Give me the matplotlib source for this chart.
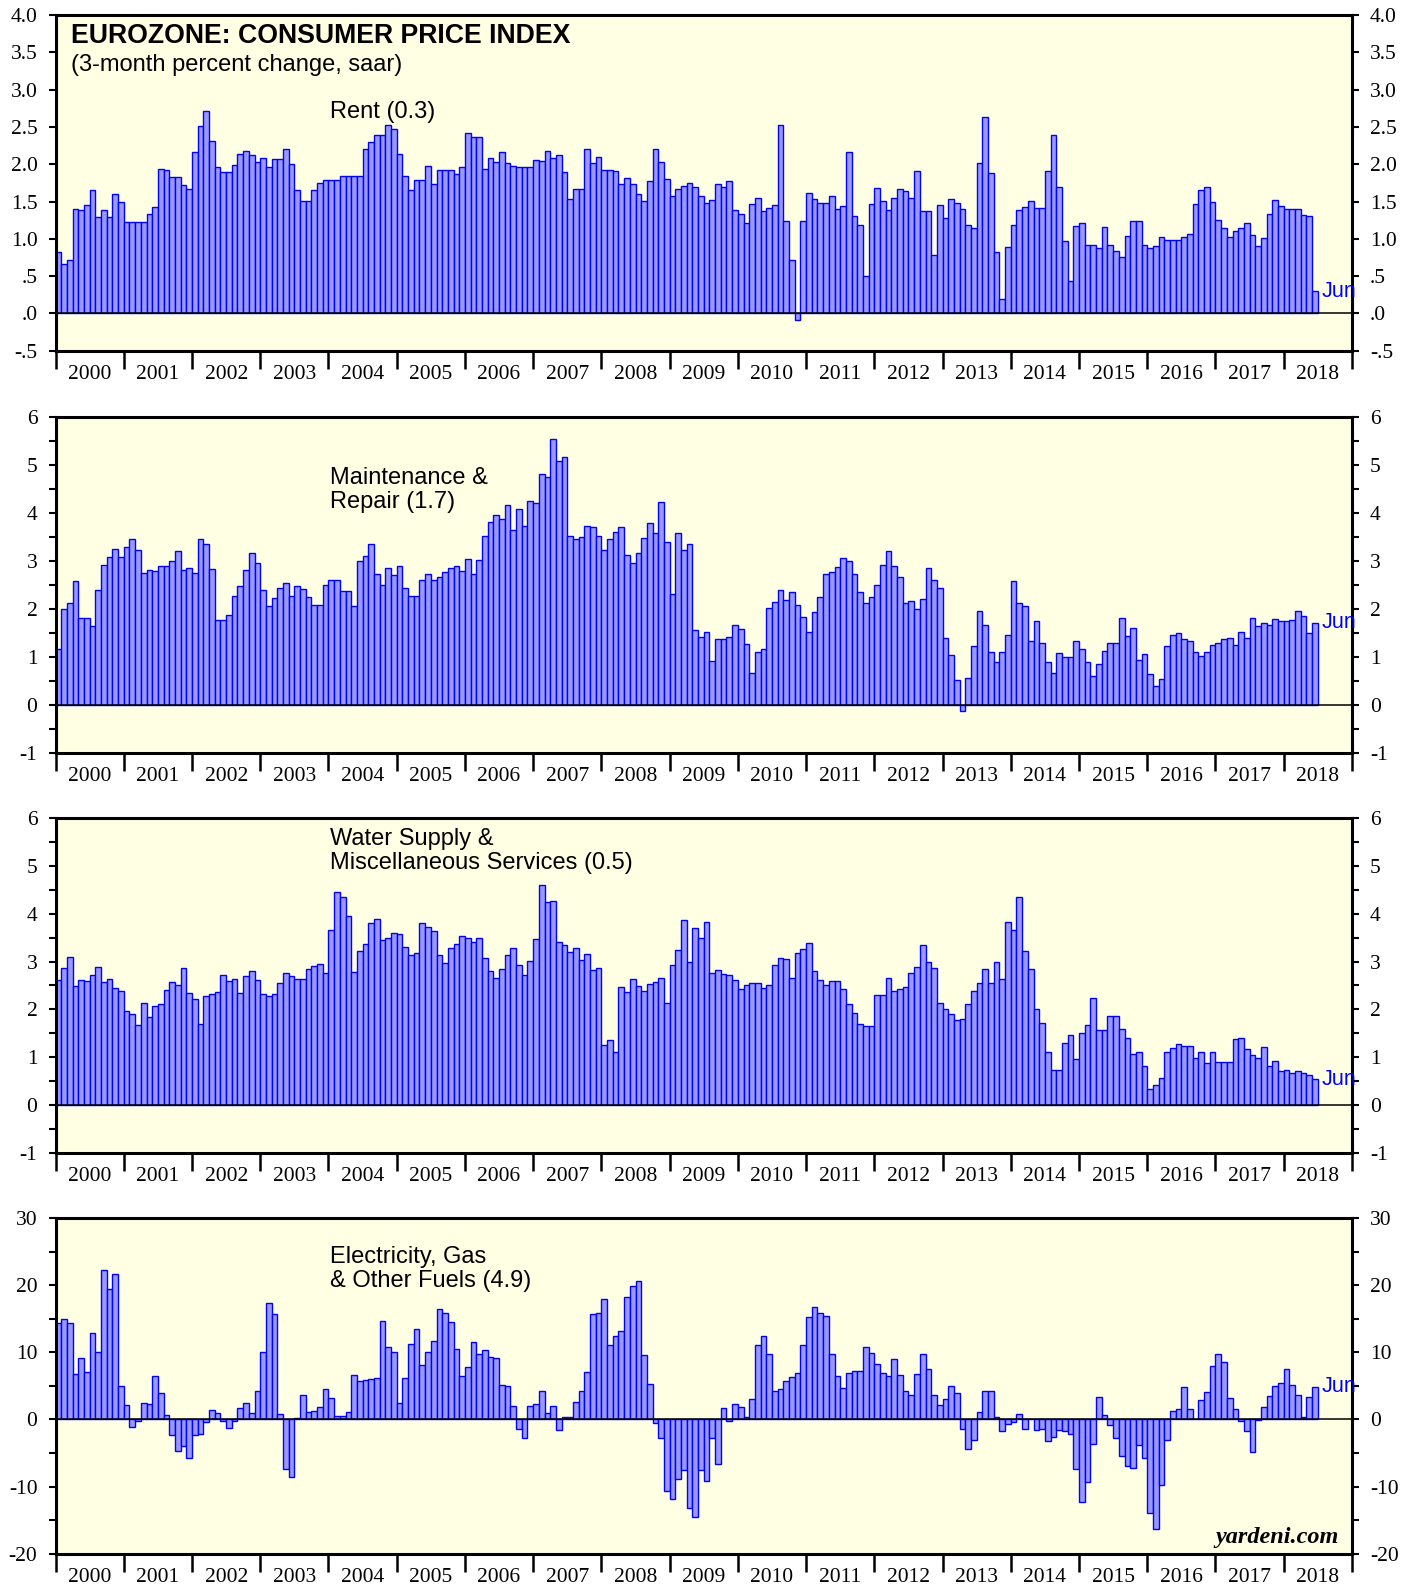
import numpy as np
import matplotlib
matplotlib.use("Agg")
import matplotlib.pyplot as plt
from matplotlib.ticker import MultipleLocator, FixedLocator, FuncFormatter

# Monthly 3-month % change (saar), Jan 2000 .. Jun 2018
rent = [
    0.83, 0.67, 0.72, 1.40, 1.39, 1.45, 1.65, 1.29, 1.39, 1.29, 1.60, 1.49,
    1.23, 1.23, 1.23, 1.23, 1.33, 1.43, 1.94, 1.93, 1.83, 1.83, 1.72, 1.67,
    2.17, 2.52, 2.72, 2.31, 1.96, 1.90, 1.90, 1.99, 2.14, 2.18, 2.13, 2.03,
    2.08, 1.97, 2.07, 2.07, 2.21, 2.01, 1.66, 1.51, 1.51, 1.66, 1.75, 1.79,
    1.79, 1.79, 1.84, 1.84, 1.84, 1.84, 2.21, 2.30, 2.40, 2.39, 2.53, 2.48,
    2.14, 1.85, 1.66, 1.79, 1.79, 1.98, 1.74, 1.92, 1.92, 1.92, 1.87, 1.97,
    2.42, 2.37, 2.37, 1.94, 2.09, 2.03, 2.17, 2.02, 1.98, 1.97, 1.97, 1.97,
    2.06, 2.05, 2.18, 2.09, 2.13, 1.90, 1.54, 1.67, 1.67, 2.21, 2.02, 2.10,
    1.93, 1.92, 1.91, 1.74, 1.82, 1.73, 1.60, 1.51, 1.77, 2.21, 2.03, 1.81,
    1.58, 1.67, 1.71, 1.75, 1.70, 1.57, 1.48, 1.52, 1.74, 1.69, 1.78, 1.39,
    1.34, 1.21, 1.47, 1.55, 1.38, 1.42, 1.46, 2.53, 1.24, 0.72, -0.09, 1.24,
    1.62, 1.53, 1.48, 1.48, 1.57, 1.40, 1.44, 2.16, 1.31, 1.18, 0.50, 1.47,
    1.68, 1.51, 1.39, 1.55, 1.67, 1.64, 1.55, 1.91, 1.38, 1.38, 0.79, 1.45,
    1.28, 1.53, 1.48, 1.40, 1.19, 1.15, 2.02, 2.63, 1.89, 0.82, 0.20, 0.89,
    1.18, 1.39, 1.43, 1.51, 1.42, 1.42, 1.91, 2.39, 1.70, 0.97, 0.44, 1.17,
    1.21, 0.92, 0.92, 0.88, 1.16, 0.92, 0.84, 0.76, 1.04, 1.24, 1.24, 0.92,
    0.88, 0.91, 1.03, 0.99, 0.99, 0.99, 1.03, 1.07, 1.47, 1.66, 1.70, 1.50,
    1.26, 1.14, 1.02, 1.10, 1.14, 1.22, 1.05, 0.90, 1.01, 1.33, 1.52, 1.44,
    1.40, 1.40, 1.40, 1.32, 1.31, 0.30,
]
rent_dec_1999 = 1.61

maintenance = [
    1.18, 2.01, 2.12, 2.59, 1.82, 1.81, 1.64, 2.40, 2.92, 3.08, 3.25, 3.08,
    3.29, 3.46, 3.23, 2.75, 2.81, 2.80, 2.91, 2.90, 3.00, 3.22, 2.82, 2.87,
    2.75, 3.47, 3.36, 2.84, 1.77, 1.77, 1.88, 2.27, 2.48, 2.81, 3.18, 2.96,
    2.41, 2.07, 2.23, 2.45, 2.55, 2.27, 2.48, 2.43, 2.26, 2.09, 2.09, 2.51,
    2.62, 2.61, 2.39, 2.39, 2.06, 3.01, 3.11, 3.37, 2.73, 2.51, 2.87, 2.71,
    2.91, 2.44, 2.27, 2.27, 2.62, 2.73, 2.62, 2.67, 2.77, 2.85, 2.90, 2.80,
    3.05, 2.73, 3.02, 3.52, 3.82, 3.96, 3.88, 4.17, 3.66, 4.10, 3.74, 4.26,
    4.21, 4.83, 4.76, 5.56, 5.10, 5.18, 3.52, 3.47, 3.50, 3.73, 3.72, 3.52,
    3.23, 3.46, 3.62, 3.71, 3.14, 2.96, 3.18, 3.49, 3.80, 3.60, 4.23, 3.40,
    2.31, 3.60, 3.24, 3.37, 1.56, 1.43, 1.52, 0.93, 1.37, 1.37, 1.42, 1.68,
    1.59, 1.28, 0.67, 1.10, 1.18, 2.02, 2.16, 2.41, 2.19, 2.36, 2.09, 1.83,
    1.52, 1.95, 2.25, 2.73, 2.77, 2.89, 3.06, 3.00, 2.74, 2.35, 2.13, 2.25,
    2.50, 2.93, 3.21, 2.91, 2.68, 2.14, 2.18, 2.00, 2.21, 2.87, 2.61, 2.45,
    1.41, 1.04, 0.53, -0.12, 0.57, 1.24, 1.97, 1.68, 1.10, 0.90, 1.10, 1.47,
    2.58, 2.12, 2.07, 1.34, 1.75, 1.30, 0.89, 0.68, 1.09, 1.01, 1.01, 1.33,
    1.16, 0.89, 0.61, 0.85, 1.12, 1.29, 1.29, 1.81, 1.44, 1.60, 0.95, 1.07,
    0.64, 0.39, 0.55, 1.23, 1.47, 1.50, 1.38, 1.34, 1.10, 1.03, 1.10, 1.26,
    1.29, 1.37, 1.41, 1.26, 1.52, 1.41, 1.81, 1.64, 1.72, 1.68, 1.79, 1.75,
    1.75, 1.78, 1.97, 1.85, 1.50, 1.72,
]

water_misc = [
    2.62, 2.87, 3.10, 2.48, 2.61, 2.59, 2.71, 2.89, 2.57, 2.64, 2.45, 2.38,
    1.96, 1.90, 1.67, 2.13, 1.84, 2.07, 2.12, 2.41, 2.58, 2.52, 2.87, 2.34,
    2.21, 1.69, 2.27, 2.32, 2.36, 2.71, 2.59, 2.64, 2.34, 2.69, 2.80, 2.61,
    2.33, 2.28, 2.32, 2.55, 2.75, 2.69, 2.64, 2.64, 2.85, 2.90, 2.94, 2.77,
    3.65, 4.46, 4.34, 3.94, 2.78, 3.21, 3.36, 3.80, 3.89, 3.45, 3.48, 3.59,
    3.57, 3.30, 3.13, 3.17, 3.80, 3.73, 3.63, 3.14, 2.97, 3.28, 3.37, 3.53,
    3.50, 3.40, 3.48, 3.07, 2.81, 2.65, 2.84, 3.14, 3.28, 2.92, 2.71, 3.01,
    3.46, 4.59, 4.24, 4.26, 3.41, 3.34, 3.20, 3.28, 3.03, 3.16, 2.82, 2.86,
    1.26, 1.36, 1.11, 2.46, 2.36, 2.64, 2.49, 2.39, 2.53, 2.57, 2.66, 2.13,
    2.93, 3.25, 3.86, 3.00, 3.69, 3.50, 3.82, 2.77, 2.82, 2.73, 2.71, 2.61,
    2.43, 2.52, 2.55, 2.55, 2.45, 2.50, 2.93, 3.07, 3.06, 2.65, 3.18, 3.26,
    3.39, 2.80, 2.61, 2.52, 2.60, 2.59, 2.42, 2.11, 1.93, 1.70, 1.66, 1.66,
    2.31, 2.30, 2.65, 2.38, 2.42, 2.46, 2.75, 2.88, 3.34, 2.98, 2.86, 2.13,
    2.00, 1.90, 1.77, 1.81, 2.11, 2.39, 2.56, 2.85, 2.55, 3.00, 2.63, 3.82,
    3.65, 4.34, 3.21, 2.84, 2.00, 1.71, 1.11, 0.73, 0.73, 1.30, 1.46, 0.97,
    1.50, 1.67, 2.23, 1.58, 1.57, 1.86, 1.86, 1.60, 1.40, 1.08, 1.11, 0.83,
    0.35, 0.43, 0.56, 1.12, 1.19, 1.28, 1.23, 1.23, 0.99, 1.11, 0.88, 1.11,
    0.91, 0.91, 0.91, 1.38, 1.41, 1.18, 1.06, 0.98, 1.21, 0.82, 0.93, 0.71,
    0.74, 0.67, 0.71, 0.67, 0.63, 0.54,
]

energy = [
    14.4, 14.9, 14.3, 6.8, 9.1, 7.0, 12.9, 10.1, 22.3, 19.4, 21.6, 5.0,
    2.2, -1.1, -0.3, 2.4, 2.3, 6.5, 4.0, 0.6, -2.3, -4.7, -3.9, -5.7,
    -2.3, -2.2, -0.4, 1.4, 1.0, -0.3, -1.3, -0.2, 1.7, 2.5, 0.9, 4.3,
    10.0, 17.3, 15.7, 0.8, -7.4, -8.6, 0.2, 3.6, 1.1, 1.3, 1.9, 4.6,
    3.2, 0.5, 0.5, 1.1, 6.6, 5.7, 5.9, 6.0, 6.2, 14.7, 10.8, 10.0,
    2.5, 6.1, 11.2, 13.5, 8.1, 10.0, 11.7, 16.5, 15.8, 14.5, 10.5, 6.5,
    7.8, 11.5, 9.8, 10.4, 9.3, 9.1, 5.2, 5.0, 2.0, -1.5, -2.8, 2.0,
    2.3, 4.2, 1.0, 2.0, -1.6, 0.4, 0.3, 2.6, 4.2, 7.0, 15.7, 15.9,
    17.9, 11.1, 12.4, 13.2, 18.2, 19.9, 20.6, 9.6, 5.3, -0.6, -2.7, -10.6,
    -11.9, -8.9, -7.6, -13.2, -14.5, -7.5, -9.2, -2.7, -6.7, 1.7, -0.2, 2.3,
    1.8, 0.3, 3.1, 11.1, 12.4, 9.7, 4.2, 4.6, 5.7, 6.3, 6.9, 11.1,
    15.2, 16.8, 15.9, 15.4, 9.7, 6.5, 4.7, 6.9, 7.2, 7.2, 10.8, 9.9,
    8.3, 6.9, 6.5, 9.0, 6.6, 4.3, 3.6, 6.8, 9.7, 7.5, 3.7, 2.1,
    3.1, 5.0, 3.9, -1.4, -4.4, -3.1, 1.1, 4.2, 4.2, 0.3, -1.7, -0.7,
    -0.4, 0.8, -1.5, 0.1, -1.6, -1.4, -3.2, -2.6, -1.6, -1.8, -2.2, -7.4,
    -12.3, -9.3, -3.7, 3.3, 0.6, -0.8, -2.7, -5.4, -6.9, -7.2, -3.8, -5.7,
    -14.0, -16.4, -9.8, -3.0, 1.3, 1.5, 4.8, 1.6, 0.0, 2.9, 4.1, 7.9,
    9.7, 8.5, 3.2, 1.5, -0.3, -1.8, -4.8, -0.1, 1.8, 3.5, 5.0, 5.4,
    7.5, 5.2, 3.6, 0.3, 3.4, 4.9,
]

year_labels = [str(y) for y in range(2000, 2019)]
series_labels = [
    "Rent (0.3)",
    "Maintenance &\nRepair (1.7)",
    "Water Supply &\nMiscellaneous Services (0.5)",
    "Electricity, Gas\n& Other Fuels (4.9)",
]

SANS = ["Liberation Sans", "DejaVu Sans"]
SERIF = ["Liberation Serif", "DejaVu Serif"]
BG = "#FFFFE4"
FILL = "#9999FF"
EDGE = "#0000FF"


def month_x(n):
    """Centre of each monthly bar, in decimal years starting Jan 2000."""
    return 2000 + (np.arange(n) + 0.5) / 12.0


def decimal_fmt(v, pos):
    s = f"{round(v, 2) + 0.0:.1f}"
    if s.startswith("0."):
        s = s[1:]
    elif s.startswith("-0."):
        s = "-" + s[2:]
    return s


def int_fmt(v, pos):
    return f"{int(round(v))}"


def style_axes(ax, ylim, major, minor, fmt):
    ax.set_facecolor(BG)
    ax.set_xlim(2000, 2019)
    ax.set_ylim(*ylim)
    for sp in ax.spines.values():
        sp.set_linewidth(2.2)
        sp.set_color("black")
    ax.axhline(0, color="black", lw=1.1, zorder=3)

    # x: ticks at year boundaries, labels centred in each year
    ax.xaxis.set_major_locator(FixedLocator(np.arange(2000, 2020)))
    ax.xaxis.set_minor_locator(FixedLocator(np.arange(2000, 2019) + 0.5))
    ax.xaxis.set_major_formatter(FuncFormatter(lambda v, p: ""))
    ax.set_xticklabels(year_labels, minor=True)
    ax.tick_params(axis="x", which="major", direction="out", length=13,
                   width=1.8, top=False)
    ax.tick_params(axis="x", which="minor", length=0, pad=10, labelsize=15.5,
                   top=False)

    ax.yaxis.set_major_locator(MultipleLocator(major))
    if minor:
        ax.yaxis.set_minor_locator(MultipleLocator(minor))
    ax.yaxis.set_major_formatter(FuncFormatter(fmt))
    ax.tick_params(axis="y", which="both", direction="out", length=5,
                   width=1.5, left=True, right=True, labelleft=True,
                   labelright=True)
    ax.tick_params(axis="y", which="major", labelsize=15.5, pad=8)
    for lab in ax.get_xticklabels(minor=True) + ax.get_yticklabels():
        lab.set_family(SERIF)
    for lab in ax.yaxis.get_ticklabels(which="both"):
        lab.set_family(SERIF)


fig = plt.figure(figsize=(14.17, 15.85), dpi=100)
fig.patch.set_facecolor("white")

left, width, height = 0.0392, 0.9149, 0.2117
bottoms = [0.7787, 0.5249, 0.2724, 0.0198]
panels = [
    (rent, (-0.5, 4.0), 0.5, None, decimal_fmt, 0.711),
    (maintenance, (-1, 6), 1, 0.5, int_fmt, 0.785),
    (water_misc, (-1, 6), 1, 0.5, int_fmt, 0.902),
    (energy, (-20, 30), 10, 5, int_fmt, 0.847),
]

for i, (vals, ylim, major, minor, fmt, label_y) in enumerate(panels):
    ax = fig.add_axes([left, bottoms[i], width, height])
    style_axes(ax, ylim, major, minor, fmt)
    x = month_x(len(vals))
    ax.bar(x, vals, width=1 / 12.0, color=FILL, edgecolor=EDGE,
           linewidth=1.0, zorder=2)
    if i == 0:
        # December 1999 bar, clipped at the left edge
        ax.bar([2000 - 1 / 24.0], [rent_dec_1999], width=1 / 12.0,
               color=FILL, edgecolor=EDGE, linewidth=1.4, zorder=2)
        ax.text(0.0117, 0.937, "EUROZONE: CONSUMER PRICE INDEX",
                transform=ax.transAxes, family=SANS, fontsize=19.2,
                fontweight="bold", ha="left", va="center")
        ax.text(0.0117, 0.852, "(3-month percent change, saar)",
                transform=ax.transAxes, family=SANS, fontsize=17,
                ha="left", va="center")
    ax.text(0.212, label_y, series_labels[i], transform=ax.transAxes,
            family=SANS, fontsize=17, ha="left", va="center",
            linespacing=1.12)
    ax.text(x[-1] + 0.1, vals[-1], "Jun", color=EDGE, family=SANS,
            fontsize=15.5, ha="left", va="center", zorder=4)
    if i == 3:
        ax.text(0.990, 0.049, "yardeni.com", transform=ax.transAxes,
                family=SERIF, fontsize=17.5, fontweight="bold",
                fontstyle="italic", ha="right", va="center")

fig.savefig("out.png", dpi=100, facecolor="white")
